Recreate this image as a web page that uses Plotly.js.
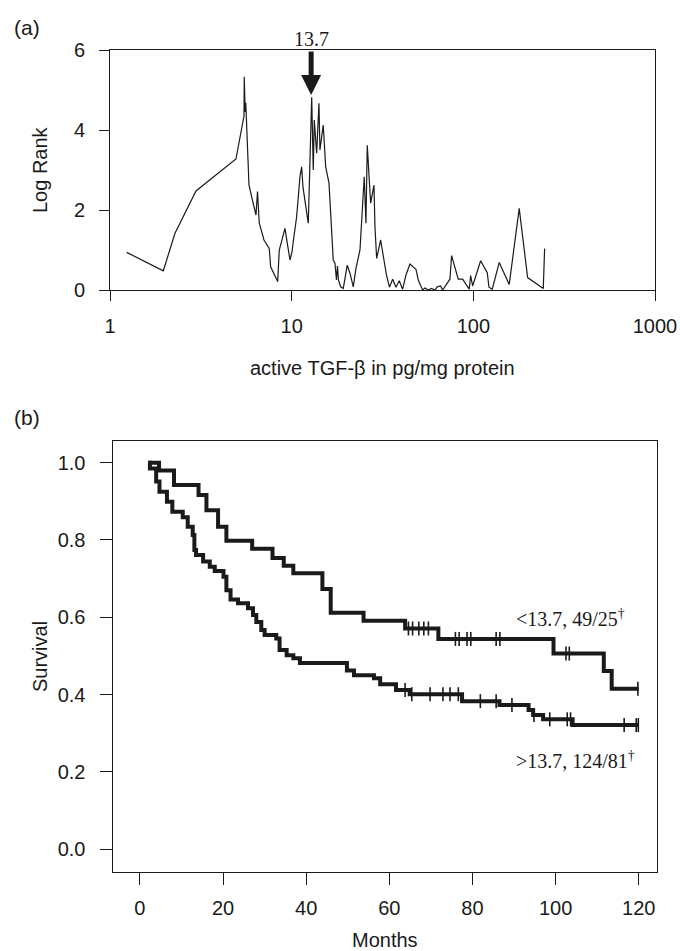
<!DOCTYPE html>
<html>
<head>
<meta charset="utf-8">
<script src="https://cdn.plot.ly/plotly-3.0.1.min.js"></script>
<style>html,body{margin:0;padding:0;background:#fff;}#chart{width:680px;height:951px;}</style>
</head>
<body>
<div id="chart"></div>
<script>
// ---- Panel (a): log-rank statistic vs cut-off of active TGF-beta ----
const cutoffTGF = [1.236,1.965,2.279,2.974,4.936,5.464,5.484,5.547,5.590,5.661,5.821,6.024,6.362,6.485,6.632,7.040,7.526,7.661,8.375,8.546,9.186,9.786,10.04,10.23,10.65,11.11,11.35,11.54,12.34,12.89,13.15,13.32,13.73,14.13,14.31,14.92,15.39,16.05,16.94,17.31,17.64,17.87,18.10,18.61,19.23,20.23,20.94,21.83,22.59,23.77,25.09,25.64,26.07,26.74,27.22,28.38,28.74,29.36,30.89,33.24,34.52,35.96,37.50,39.10,40.82,42.57,44.78,48.32,49.76,51.16,52.60,54.15,56.47,58.81,61.47,63.29,66.07,67.76,74.32,75.94,82.59,87.32,94.93,96.63,99.11,109.7,119.3,121.9,127.1,138.9,157.6,178.9,199.0,242.6,246.9];
const logRank   = [0.94,0.48,1.42,2.475,3.275,4.35,5.33,4.45,4.68,3.85,2.625,2.33,1.875,2.46,1.67,1.25,1.04,0.58,0.21,1.0,1.54,0.75,0.95,1.25,1.83,2.83,3.08,2.57,1.67,4.82,3.0,4.25,3.42,4.67,3.5,4.12,3.08,2.67,0.75,0.67,0.25,0.6,0.25,0.08,0.04,0.62,0.42,0.08,0.54,1.0,2.83,1.67,3.62,2.75,2.17,2.62,1.58,0.79,1.25,0.375,0.07,0.27,0.07,0.23,0.02,0.375,0.65,0.52,0.25,0.12,0.0,0.05,0.0,0.04,0.0,0.08,0.1,0.0,0.27,0.86,0.27,0.27,0.02,0.36,0.1,0.73,0.43,0.07,0.02,0.69,0.14,2.04,0.31,0.04,1.04];
const xTickVals = [1,10,100,1000];
const xTickText = ["1","10","100","1000"];
const yTickValsA = [0,2,4,6];
const optimalCut = 12.8;      // arrow position as drawn
const optimalCutLabel = "13.7";
const optimalPeak = 4.875;

// ---- Panel (b): Kaplan-Meier survival ----
const lowT  = [2.0,4.6,8.2,14.1,16.0,18.8,20.8,27.0,31.9,34.6,36.9,43.9,45.9,53.8,63.8,71.8,99.5,111.6,113.5,120];
const lowS  = [1.0,0.980,0.942,0.916,0.877,0.834,0.798,0.777,0.753,0.733,0.714,0.673,0.612,0.591,0.571,0.544,0.506,0.461,0.415,0.415];
const lowCensor = [64.6,65.6,67.1,68.3,69.4,75.9,76.8,78.7,79.6,85.7,86.6,102.5,103.3,119.8];
const highT = [2.0,2.4,3.9,4.7,6.5,7.8,10.3,11.5,12.7,13.1,13.5,15.2,16.8,18.0,20.1,20.8,21.8,23.6,26.0,27.2,28.0,29.2,30.0,32.8,33.6,35.3,36.9,38.5,49.8,51.5,56.3,57.8,61.6,64.9,77.5,86.5,93.5,94.6,97.0,104.1,120];
const highS = [1.0,0.985,0.951,0.925,0.899,0.873,0.859,0.834,0.813,0.774,0.761,0.744,0.731,0.720,0.705,0.670,0.646,0.636,0.623,0.606,0.588,0.567,0.554,0.545,0.515,0.502,0.494,0.482,0.462,0.450,0.442,0.427,0.412,0.401,0.383,0.373,0.360,0.347,0.336,0.321,0.321];
const highCensor = [63.8,65.4,69.8,72.9,74.6,76.6,81.9,85.7,89.5,94.8,98.6,102.8,103.6,116.5,119.4,119.9];
const lowLabel  = "&lt;13.7, 49/25<sup>†</sup>";
const highLabel = "&gt;13.7, 124/81<sup>†</sup>";
const monthTicks = [0,20,40,60,80,100,120];
const survTicks = [0,0.2,0.4,0.6,0.8,1.0];

function stepAt(ts, ss, t){
  let v = ss[0];
  for (let i=0;i<ts.length;i++){ if (ts[i] <= t) v = ss[i]; }
  return v;
}

const W = 680, H = 951;
const px = v => v / W;
const py = v => 1 - v / H;
const sans = "Liberation Sans, Arial, Helvetica, sans-serif";
const serif = "Liberation Serif, Times New Roman, serif";
const ink = "#1a1a1a";

const traces = [
  {x: cutoffTGF, y: logRank, xaxis:'x', yaxis:'y', type:'scatter', mode:'lines',
   line:{color:ink, width:1.2}, hoverinfo:'x+y'},
  {x: lowT, y: lowS, xaxis:'x2', yaxis:'y2', type:'scatter', mode:'lines',
   line:{color:ink, width:4, shape:'hv'}},
  {x: highT, y: highS, xaxis:'x2', yaxis:'y2', type:'scatter', mode:'lines',
   line:{color:ink, width:4, shape:'hv'}},
  {x: lowCensor, y: lowCensor.map(t=>stepAt(lowT,lowS,t)), xaxis:'x2', yaxis:'y2', type:'scatter', mode:'markers',
   marker:{symbol:'line-ns', size:10, line:{color:ink, width:1.6}}},
  {x: highCensor, y: highCensor.map(t=>stepAt(highT,highS,t)), xaxis:'x2', yaxis:'y2', type:'scatter', mode:'markers',
   marker:{symbol:'line-ns', size:10, line:{color:ink, width:1.6}}}
];

const axisCommon = {
  showgrid:false, zeroline:false, showline:true, mirror:true,
  linecolor:ink, linewidth:1, ticks:'outside', tickcolor:ink, tickwidth:1,
  tickfont:{family:sans, size:20, color:ink}, fixedrange:true
};

function label(text, x, y, opts){
  return Object.assign({text:text, xref:'paper', yref:'paper', x:px(x), y:py(y),
    xanchor:'center', yanchor:'middle', showarrow:false,
    font:{family:sans, size:20, color:ink}}, opts || {});
}

const layout = {
  width:W, height:H, margin:{l:0,r:0,t:0,b:0},
  paper_bgcolor:'#fff', plot_bgcolor:'#fff', showlegend:false,
  font:{family:sans, color:ink},
  xaxis: Object.assign({}, axisCommon, {
    type:'log', range:[0,3], domain:[px(110), px(655)], anchor:'y',
    tickmode:'array', tickvals:xTickVals, ticktext:xTickText, ticklen:10, ticklabelstandoff:8
  }),
  yaxis: Object.assign({}, axisCommon, {
    range:[0,6], domain:[py(290), py(50)], anchor:'x',
    tickmode:'array', tickvals:yTickValsA, ticklen:10, ticklabelstandoff:10
  }),
  xaxis2: Object.assign({}, axisCommon, {
    range:[-6.6,124.4], domain:[px(112.5), px(657)], anchor:'y2',
    tickmode:'array', tickvals:monthTicks, ticklen:12, ticklabelstandoff:6
  }),
  yaxis2: Object.assign({}, axisCommon, {
    range:[-0.059,1.056], domain:[py(872), py(441)], anchor:'x2',
    tickmode:'array', tickvals:survTicks, tickformat:'.1f', ticklen:12, ticklabelstandoff:10
  }),
  annotations: [
    label('(a)', 27, 27, {font:{family:sans,size:21,color:ink}}),
    label('(b)', 27, 418, {font:{family:sans,size:21,color:ink}}),
    label('Log Rank', 40, 170, {textangle:-90}),
    label('active TGF-β in pg/mg protein', 382, 368),
    label('Survival', 40, 657, {textangle:-90}),
    label('Months', 385, 940),
    {text:optimalCutLabel, xref:'x', yref:'y', x:Math.log10(optimalCut), y:optimalPeak,
     showarrow:true, ax:0, ay:-56, arrowhead:2, arrowsize:0.8, arrowwidth:5, arrowcolor:ink,
     font:{family:serif,size:20,color:ink}},
    label(lowLabel, 514, 618, {xanchor:'left', font:{family:serif,size:20,color:ink}}),
    label(highLabel, 514, 760, {xanchor:'left', font:{family:serif,size:20,color:ink}})
  ]
};

Plotly.newPlot('chart', traces, layout, {staticPlot:true, displayModeBar:false});
</script>
</body>
</html>
